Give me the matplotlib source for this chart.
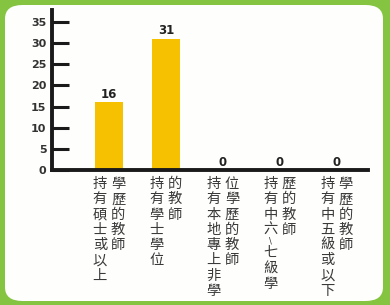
import numpy as np
from matplotlib import pyplot as plt
from matplotlib.patches import FancyBboxPatch

categories = [
    ["持有碩士或以上", "學歷的教師"],
    ["持有學士學位", "的教師"],
    ["持有本地專上非學", "位學歷的教師"],
    ["持有中六\\七級學", "歷的教師"],
    ["持有中五級或以下", "學歷的教師"],
]
values = [16, 31, 0, 0, 0]
yticks = [0, 5, 10, 15, 20, 25, 30, 35]

W, H = 390, 305
fig = plt.figure(figsize=(W / 100, H / 100), dpi=100)
fig.patch.set_facecolor('#84c441')

# white rounded panel inside the green frame
panel = FancyBboxPatch((5 / W, 4 / H), 378 / W, 296 / H,
                       boxstyle="round,pad=0,rounding_size=0.045",
                       transform=fig.transFigure, facecolor='#fefefc',
                       edgecolor='none', zorder=-5)
fig.patches.append(panel)

ax = fig.add_axes([52 / W, (H - 170) / H, (368 - 52) / W, 160 / H])
ax.set_facecolor('none')
ax.set_zorder(2)

x = np.arange(len(values))
ax.bar(x, values, width=0.5, color='#f6c100', zorder=2)

for xi, v in zip(x, values):
    ax.annotate(str(v), (xi, v), xytext=(0, 1), textcoords='offset points',
                ha='center', va='bottom', fontsize=8.5, fontweight='bold',
                color='#222222')

ax.set_xlim(-1.0, 4.55)
ax.set_ylim(0, 37.8)
ax.set_yticks(yticks)
ax.set_xticks([])
ax.tick_params(axis='y', direction='in', length=12, width=2.2,
               color='#1a1a1a', labelsize=8, labelcolor='#333333', pad=4)
for lab in ax.get_yticklabels():
    lab.set_fontweight('bold')

for s in ['top', 'right']:
    ax.spines[s].set_visible(False)
for s in ['left', 'bottom']:
    ax.spines[s].set_linewidth(2.8)
    ax.spines[s].set_color('#1a1a1a')

# vertical category labels, two columns each
pitch = 11.0
for xi, cols in zip(x, categories):
    for ci, col in enumerate(cols):
        dx = -6.6 if ci == 0 else 6.6
        y = -5
        for ch in col:
            if ch == '\\':
                ax.annotate(ch, (xi, 0), xycoords=('data', 'axes fraction'),
                            xytext=(dx, y + 1), textcoords='offset points',
                            ha='center', va='top', fontsize=6,
                            color='#333333', annotation_clip=False)
                y -= pitch * 0.55
                continue
            ax.annotate(ch, (xi, 0), xycoords=('data', 'axes fraction'),
                        xytext=(dx, y), textcoords='offset points',
                        ha='center', va='top', fontsize=10.3,
                        family=['Noto Sans CJK TC', 'DejaVu Sans'],
                        color='#3a3a3a', annotation_clip=False)
            y -= pitch

fig.savefig('out.png', dpi=100, facecolor=fig.get_facecolor())
